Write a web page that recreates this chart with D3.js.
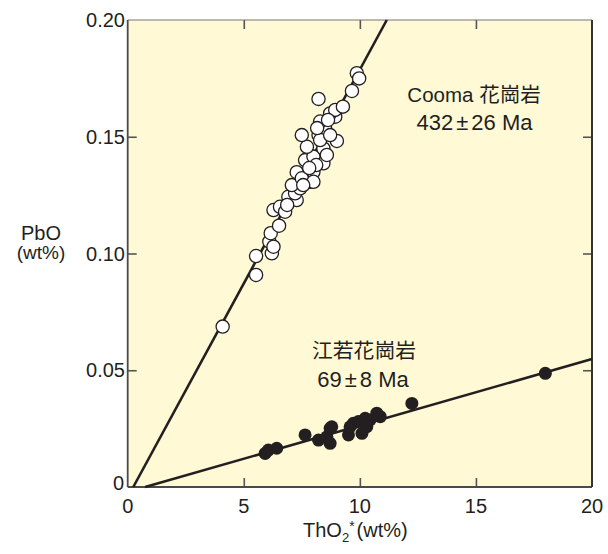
<!DOCTYPE html>
<html>
<head>
<meta charset="utf-8">
<script src="https://cdn.jsdelivr.net/npm/d3@7"></script>
<style>
  html, body { margin: 0; padding: 0; background: #ffffff; }
  svg { display: block; }
  text { font-family: "Liberation Sans", Arial, "Noto Sans CJK JP", sans-serif; fill: #231f20; }
</style>
</head>
<body>
<svg id="chart" width="608" height="554"></svg>
<script>
// ---- data ----
const xTicks = [0, 5, 10, 15, 20];
const yTicks = [0, 0.05, 0.10, 0.15, 0.20];
const yTickLabels = ["0", "0.05", "0.10", "0.15", "0.20"];

// Cooma granite (open circles): ThO2*, PbO
const coomaTh = [4.09, 5.53, 5.53, 6.21, 6.10, 6.28, 6.16, 6.52, 6.28, 6.56, 6.78, 6.92, 7.28, 7.21, 7.43, 7.07,
  7.86, 7.28, 7.50, 8.00, 8.00, 7.64, 8.00, 8.43, 7.72, 8.43, 8.58, 7.50, 8.22, 9.01, 8.50, 8.29, 8.94, 8.72,
  8.94, 9.27, 8.22, 9.66, 9.87, 9.97, 8.12, 8.29, 8.63, 7.82, 8.16, 8.72, 7.56, 6.87];
const coomaPb = [0.0687, 0.0908, 0.0989, 0.1001, 0.1051, 0.1029, 0.1087, 0.1119, 0.1186, 0.1200, 0.1179, 0.1243,
  0.1229, 0.1258, 0.1279, 0.1293, 0.1307, 0.1348, 0.1322, 0.1350, 0.1307, 0.1400, 0.1415, 0.1386, 0.1457, 0.1450,
  0.1422, 0.1507, 0.1507, 0.1482, 0.1536, 0.1565, 0.1586, 0.1600, 0.1615, 0.1629, 0.1662, 0.1696, 0.1772, 0.1750,
  0.1379, 0.1486, 0.1572, 0.1366, 0.1537, 0.1507, 0.1293, 0.1208];

// Jiangruo granite (filled circles)
const jrTh = [17.99, 12.24, 10.88, 10.73, 10.23, 10.30, 10.09, 9.72, 9.51, 9.94, 8.72, 8.72, 8.22, 7.64, 6.42,
  5.92, 6.06, 8.58, 9.58, 10.44, 8.79];
const jrPb = [0.0487, 0.0358, 0.0301, 0.0316, 0.0294, 0.0258, 0.0230, 0.0273, 0.0223, 0.0280, 0.0251, 0.0187,
  0.0201, 0.0223, 0.0166, 0.0144, 0.0158, 0.0215, 0.0258, 0.0287, 0.0258];

// isochron lines (endpoints in data units)
const coomaLineTh = [0.24, 11.16];
const coomaLinePb = [0, 0.20];
const jrLineTh = [0.75, 20];
const jrLinePb = [0, 0.0548];

// ---- chart ----
const svg = d3.select("#chart");
const x = d3.scaleLinear().domain([0, 20]).range([127.7, 592]);
const y = d3.scaleLinear().domain([0, 0.20]).range([487, 20]);
const ink = "#231f20";
const frameCol = "#4a4a4a";

// background
svg.append("rect")
  .attr("x", x(0)).attr("y", y(0.20))
  .attr("width", x(20) - x(0)).attr("height", y(0) - y(0.20))
  .attr("fill", "#fff9d6");

// inner ticks
const tickLen = 9;
const innerX = xTicks.filter(d => d > 0 && d < 20);
const innerY = yTicks.filter(d => d > 0 && d < 0.20);

const bottomAxis = svg.append("g").attr("transform", `translate(0,${y(0)})`)
  .call(d3.axisBottom(x).tickValues(innerX).tickSize(-tickLen).tickFormat(""));
const topAxis = svg.append("g").attr("transform", `translate(0,${y(0.20)})`)
  .call(d3.axisTop(x).tickValues(innerX).tickSize(-tickLen).tickFormat(""));
const leftAxis = svg.append("g").attr("transform", `translate(${x(0)},0)`)
  .call(d3.axisLeft(y).tickValues(innerY).tickSize(-tickLen).tickFormat(""));
const rightAxis = svg.append("g").attr("transform", `translate(${x(20)},0)`)
  .call(d3.axisRight(y).tickValues(innerY).tickSize(-tickLen).tickFormat(""));
[bottomAxis, topAxis, leftAxis, rightAxis].forEach(g => {
  g.select(".domain").remove();
  g.selectAll(".tick line").attr("stroke", "#555").attr("stroke-width", 1.6);
});

// tick labels
const labX = svg.append("g");
labX.selectAll("text").data(xTicks).join("text")
  .attr("x", d => x(d)).attr("y", 513)
  .attr("text-anchor", "middle").attr("font-size", 20)
  .text(d => d);
const labY = svg.append("g");
labY.selectAll("text").data(yTicks).join("text")
  .attr("x", d => d === 0 ? 124 : 125).attr("y", (d, i) => y(d) + (d === 0 ? 3 : 7))
  .attr("text-anchor", "end").attr("font-size", 20)
  .text((d, i) => yTickLabels[i]);

// frame
svg.append("line").attr("x1", x(0)).attr("x2", x(20)).attr("y1", y(0.20)).attr("y2", y(0.20))
  .attr("stroke", "#777").attr("stroke-width", 1.2);
svg.append("line").attr("x1", x(0)).attr("x2", x(0)).attr("y1", y(0.20)).attr("y2", y(0))
  .attr("stroke", frameCol).attr("stroke-width", 1.8);
svg.append("line").attr("x1", x(0)).attr("x2", x(20)).attr("y1", y(0)).attr("y2", y(0))
  .attr("stroke", frameCol).attr("stroke-width", 1.8);
svg.append("line").attr("x1", x(20)).attr("x2", x(20)).attr("y1", y(0.20)).attr("y2", y(0))
  .attr("stroke", "#333").attr("stroke-width", 2);

// isochron lines
const lineGen = d3.line().x(d => x(d[0])).y(d => y(d[1]));
svg.append("path").datum(coomaLineTh.map((t, i) => [t, coomaLinePb[i]]))
  .attr("d", lineGen).attr("stroke", ink).attr("stroke-width", 2.6).attr("fill", "none");
svg.append("path").datum(jrLineTh.map((t, i) => [t, jrLinePb[i]]))
  .attr("d", lineGen).attr("stroke", ink).attr("stroke-width", 2.6).attr("fill", "none");

// points
svg.append("g").selectAll("circle").data(jrTh.map((t, i) => [t, jrPb[i]])).join("circle")
  .attr("cx", d => x(d[0])).attr("cy", d => y(d[1])).attr("r", 6.5)
  .attr("fill", ink);
svg.append("g").selectAll("circle").data(coomaTh.map((t, i) => [t, coomaPb[i]])).join("circle")
  .attr("cx", d => x(d[0])).attr("cy", d => y(d[1])).attr("r", 6.6)
  .attr("fill", "#ffffff").attr("stroke", ink).attr("stroke-width", 1.3);

// annotations
svg.append("text").attr("x", 474).attr("y", 102).attr("text-anchor", "middle").attr("font-size", 20.5)
  .text("Cooma 花崗岩");
const t2 = svg.append("text").attr("x", 474.5).attr("y", 130).attr("text-anchor", "middle").attr("font-size", 22);
t2.append("tspan").text("432");
t2.append("tspan").attr("dx", 3).text("±");
t2.append("tspan").attr("dx", 3).text("26 Ma");

svg.append("text").attr("x", 364).attr("y", 358).attr("text-anchor", "middle").attr("font-size", 20.8)
  .text("江若花崗岩");
const t4 = svg.append("text").attr("x", 363).attr("y", 387).attr("text-anchor", "middle").attr("font-size", 22);
t4.append("tspan").text("69");
t4.append("tspan").attr("dx", 3).text("±");
t4.append("tspan").attr("dx", 3).text("8 Ma");

// axis titles
svg.append("text").attr("x", 41).attr("y", 240).attr("text-anchor", "middle").attr("font-size", 20).text("PbO");
svg.append("text").attr("x", 41).attr("y", 259).attr("text-anchor", "middle").attr("font-size", 19).text("(wt%)");

const xt = svg.append("text").attr("x", 303).attr("y", 537).attr("font-size", 20);
xt.append("tspan").text("ThO");
xt.append("tspan").attr("font-size", 13).attr("dy", 5).text("2");
xt.append("tspan").attr("font-size", 14).attr("dy", -11).text("*");
xt.append("tspan").attr("dx", 2).attr("dy", 6).text("(wt%)");
</script>
</body>
</html>
